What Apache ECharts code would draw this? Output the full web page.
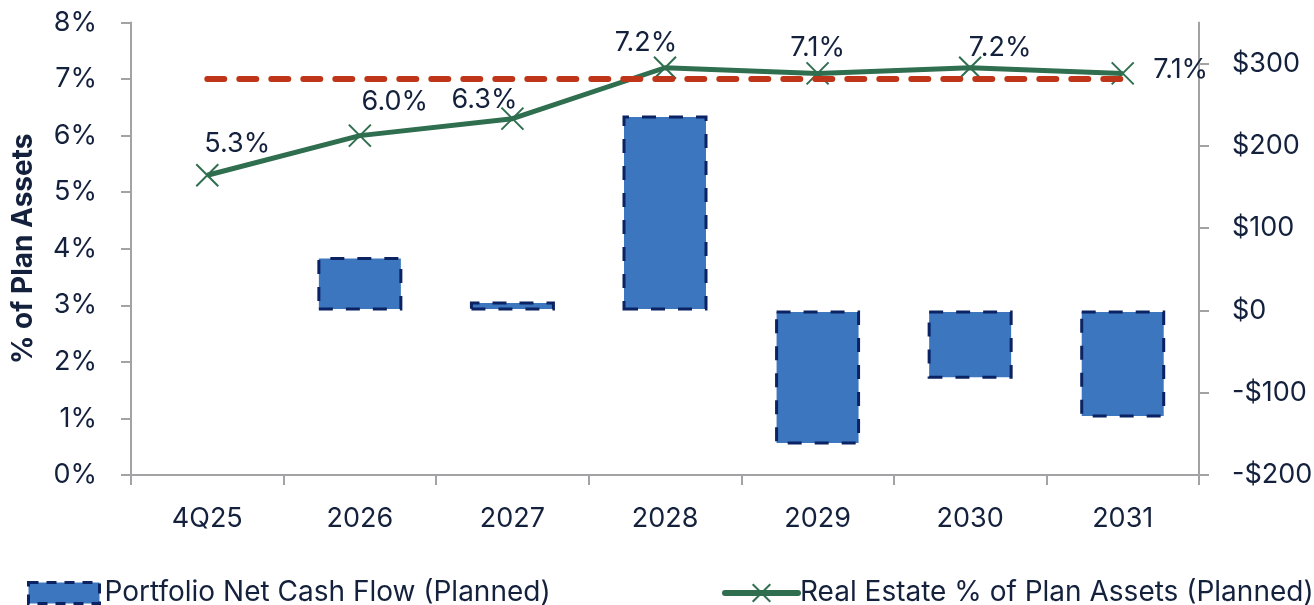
<!DOCTYPE html>
<html>
<head>
<meta charset="utf-8">
<script src="https://cdn.jsdelivr.net/npm/echarts@6/dist/echarts.min.js"></script>
<style>
  html, body { margin: 0; padding: 0; background: #ffffff; }
  #chart { width: 1314px; height: 605px; }
</style>
</head>
<body>
<div id="chart"></div>
<script>
// Categories and planned values
const periods = ['4Q25', '2026', '2027', '2028', '2029', '2030', '2031'];
const netCashFlow = [null, 65, 11, 237, -163, -83, -130];          // $ (right axis)
const realEstatePct = [5.3, 6.0, 6.3, 7.2, 7.1, 7.2, 7.1];         // % of plan assets (left axis)
const targetPct = [7, 7, 7, 7, 7, 7, 7];                           // target allocation
const pctTicks = [0, 1, 2, 3, 4, 5, 6, 7, 8];
const dollarTicks = [-200, -100, 0, 100, 200, 300];

const TEXT = '#14213D';
const AXIS = '#A3A3A6';
const FONT = 'Inter';
const FS = 27;
const LEGEND_FS = 28;

// label nudges for the percentage labels so they clear the line
const labelShift = [[30, 1], [35, -2], [-28, 13], [-19, 7], [0, 6], [30, 12], [58, 28]];

const chart = echarts.init(document.getElementById('chart'), null, { renderer: 'canvas' });

const xMark = 'path://M0,0L10,10M10,0L0,10';

chart.setOption({
  animation: false,
  backgroundColor: '#ffffff',
  textStyle: { fontFamily: FONT, color: TEXT },
  grid: { left: 131, right: 115, top: 22.5, bottom: 130, outerBoundsMode: 'none', containLabel: false },
  legend: [
    {
      data: [{ name: 'Portfolio Net Cash Flow (Planned)', icon: 'rect' }],
      left: 22, top: 574,
      itemWidth: 71, itemHeight: 21, itemGap: 0,
      itemStyle: { color: '#3B76BE', borderColor: '#0B2362', borderWidth: 3, borderType: [10, 8] },
      textStyle: { fontFamily: FONT, fontSize: LEGEND_FS, color: TEXT, padding: [0, 0, 0, 0] },
      selectedMode: false
    },
    {
      data: ['Real Estate % of Plan Assets (Planned)'],
      left: 717, top: 574,
      itemWidth: 73, itemHeight: 22, itemGap: 0,
      lineStyle: { width: 6, cap: 'round' },
      textStyle: { fontFamily: FONT, fontSize: LEGEND_FS, color: TEXT, padding: [0, 0, 0, -3] },
      selectedMode: false
    }
  ],
  xAxis: {
    type: 'category',
    data: periods,
    boundaryGap: true,
    axisLine: { lineStyle: { color: AXIS, width: 2 } },
    axisTick: { show: true, alignWithLabel: false, length: 10, lineStyle: { color: AXIS, width: 2 } },
    axisLabel: { fontFamily: FONT, fontSize: FS, color: TEXT, margin: 30 }
  },
  yAxis: [
    {
      type: 'value',
      min: pctTicks[0], max: pctTicks[pctTicks.length - 1], interval: 1,
      position: 'left',
      name: '% of Plan Assets',
      nameLocation: 'middle',
      nameGap: 93,
      nameTextStyle: { fontFamily: FONT, fontSize: 28, fontWeight: 'bold', color: TEXT },
      axisLine: { show: true, lineStyle: { color: AXIS, width: 2 } },
      axisTick: { show: true, length: 10, lineStyle: { color: AXIS, width: 2 } },
      axisLabel: { fontFamily: FONT, fontSize: FS, color: TEXT, margin: 34, formatter: v => v + '%' },
      splitLine: { show: false }
    },
    {
      type: 'value',
      min: -200, max: 350, interval: 100,
      position: 'right',
      axisLine: { show: true, lineStyle: { color: AXIS, width: 2 } },
      axisTick: { show: true, length: 10, customValues: dollarTicks, lineStyle: { color: AXIS, width: 2 } },
      axisLabel: {
        fontFamily: FONT, fontSize: FS, color: TEXT, margin: 33,
        customValues: dollarTicks,
        formatter: v => (v < 0 ? '-$' + Math.abs(v) : '$' + v)
      },
      splitLine: { show: false }
    }
  ],
  series: [
    {
      name: 'Portfolio Net Cash Flow (Planned)',
      type: 'bar',
      yAxisIndex: 1,
      data: netCashFlow,
      barWidth: 85,
      itemStyle: {
        color: '#3B76BE',
        borderColor: '#0B2362',
        borderWidth: 3,
        borderType: [14, 13]
      },
      z: 2
    },
    {
      name: 'Real Estate % of Plan Assets (Planned)',
      type: 'line',
      yAxisIndex: 0,
      data: realEstatePct.map((v, i) => ({
        value: v,
        label: { offset: labelShift[i] }
      })),
      lineStyle: { color: '#2F6E4F', width: 5 },
      symbol: xMark,
      symbolSize: 22,
      itemStyle: { color: 'none', borderColor: '#2F6E4F', borderWidth: 2 },
      label: {
        show: true,
        position: 'top',
        distance: 5,
        fontFamily: FONT,
        fontSize: FS,
        color: TEXT,
        formatter: p => p.value.toFixed(1) + '%'
      },
      z: 3
    },
    {
      name: 'Target',
      type: 'line',
      yAxisIndex: 0,
      data: targetPct,
      symbol: 'none',
      lineStyle: { color: '#BF3519', width: 6, type: [17, 15], cap: 'round' },
      silent: true,
      z: 4
    }
  ]
});
</script>
</body>
</html>
